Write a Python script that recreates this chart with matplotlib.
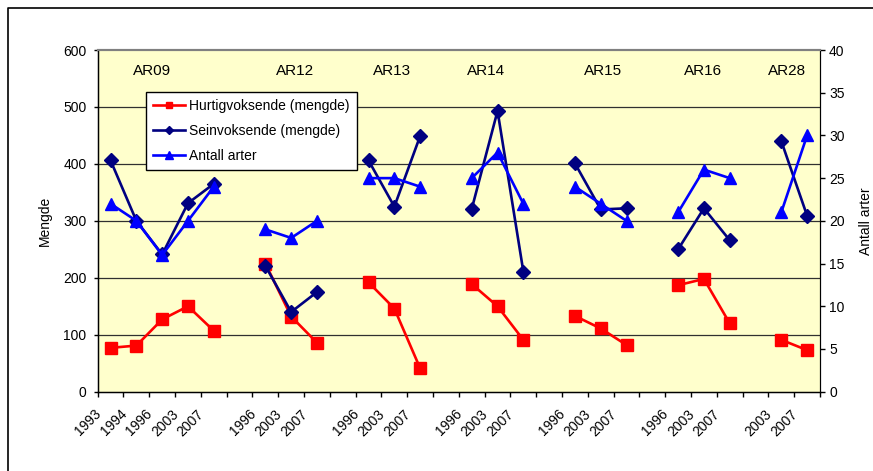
import numpy as np
import matplotlib
matplotlib.use('Agg')
import matplotlib.pyplot as plt
import matplotlib.transforms as mtransforms
from matplotlib.lines import Line2D

plt.rcParams['font.family'] = ['Liberation Sans', 'DejaVu Sans']

nan = np.nan
categories = ['1993', '1994', '1996', '2003', '2007', '',
              '1996', '2003', '2007', '',
              '1996', '2003', '2007', '',
              '1996', '2003', '2007', '',
              '1996', '2003', '2007', '',
              '1996', '2003', '2007', '',
              '2003', '2007']
hurtig = [77, 81, 127, 150, 107, nan,
          225, 132, 86, nan,
          192, 146, 41, nan,
          189, 150, 91, nan,
          133, 111, 82, nan,
          187, 198, 120, nan,
          91, 73]
sein = [406, 300, 241, 331, 365, nan,
        221, 140, 175, nan,
        406, 325, 449, nan,
        321, 493, 211, nan,
        401, 320, 322, nan,
        250, 322, 266, nan,
        440, 309]
antall = [22, 20, 16, 20, 24, nan,
          19, 18, 20, nan,
          25, 25, 24, nan,
          25, 28, 22, nan,
          24, 22, 20, nan,
          21, 26, 25, nan,
          21, 30]
groups = ['AR09', 'AR12', 'AR13', 'AR14', 'AR15', 'AR16', 'AR28']
group_xfrac = [0.0759, 0.273, 0.4075, 0.537, 0.6995, 0.838, 0.9549]

RED = '#FF0000'
NAVY = '#000080'
BLUE = '#0000FF'
W, H = 873, 471

fig = plt.figure(figsize=(W / 100, H / 100), dpi=100)
L, R, T, B = 97.7, 820, 50, 391.7
ax = fig.add_axes([L / W, 1 - B / H, (R - L) / W, (B - T) / H])
ax.set_facecolor('#FFFFCC')

x = np.arange(len(categories))
ax.plot(x, hurtig, color=RED, lw=1.9, marker='s', ms=8, mec=RED, mfc=RED, zorder=3)
ax.plot(x, sein, color=NAVY, lw=1.9, marker='D', ms=7, mec=NAVY, mfc=NAVY, zorder=4)

ax.set_xlim(-0.5, len(categories) - 0.5)
ax.set_ylim(0, 600)
ax.set_yticks(np.arange(0, 601, 100))
for yv in range(100, 600, 100):
    ax.axhline(yv, color='#303030', lw=0.9, zorder=1)

ax.set_xticks(np.arange(-0.5, len(categories), 1.0))
ax.set_xticklabels([])
ax.set_xticks(x, minor=True)
ax.set_xticklabels(categories, minor=True, rotation=45, ha='right', va='top',
                   fontsize=10)
ax.tick_params(axis='x', which='major', direction='out', length=3.5, width=1, color='black')
ax.tick_params(axis='x', which='minor', length=0, pad=3)
ax.tick_params(axis='y', direction='out', length=3, width=1, labelsize=10, pad=5)
offset = mtransforms.ScaledTranslation(-0.07, -0.11, fig.dpi_scale_trans)
for lbl in ax.get_xticklabels(minor=True):
    lbl.set_transform(lbl.get_transform() + offset)

for s in ['left', 'bottom']:
    ax.spines[s].set_color('black')
    ax.spines[s].set_linewidth(1)
ax.spines['top'].set_color('#808080')
ax.spines['top'].set_linewidth(1.5)
ax.spines['right'].set_color('black')
ax.set_ylabel('Mengde', fontsize=10, labelpad=8)

ax2 = ax.twinx()
ax2.plot(x, antall, color=BLUE, lw=1.9, marker='^', ms=8, mec=BLUE, mfc=BLUE, zorder=5)
ax2.set_ylim(0, 40)
ax2.set_yticks(np.arange(0, 41, 5))
ax2.tick_params(axis='y', direction='out', length=3.5, width=1, labelsize=10, pad=3)
ax2.spines['top'].set_color('#808080')
ax2.spines['top'].set_linewidth(1.5)
ax2.spines['right'].set_color('black')
ax2.set_ylabel('Antall arter', fontsize=10, labelpad=10)

for g, gx in zip(groups, group_xfrac):
    ax2.text(gx, 0.939, g, transform=ax2.transAxes, ha='center', va='center', fontsize=11)

handles = [
    Line2D([], [], color=RED, lw=1.9, marker='s', ms=5),
    Line2D([], [], color=NAVY, lw=1.9, marker='D', ms=4.5),
    Line2D([], [], color=BLUE, lw=1.9, marker='^', ms=6),
]
labels = ['Hurtigvoksende (mengde)', 'Seinvoksende (mengde)', 'Antall arter']
leg = ax2.legend(handles, labels, loc='upper left',
                 bbox_to_anchor=((146 - L) / (R - L), (B - 92) / (B - T)),
                 borderaxespad=0, fontsize=10, frameon=True, fancybox=False,
                 framealpha=1, edgecolor='black', handlelength=2.3,
                 handletextpad=0.3, labelspacing=0.8, borderpad=0.5)
leg.get_frame().set_linewidth(1)
leg.set_zorder(10)

# outer chart border (top and left)
fig.add_artist(Line2D([7.5 / W, 7.5 / W, 1.0], [0, 1 - 8 / H, 1 - 8 / H],
                      transform=fig.transFigure, color='black', lw=1.2))

fig.savefig('out.png', dpi=100)
